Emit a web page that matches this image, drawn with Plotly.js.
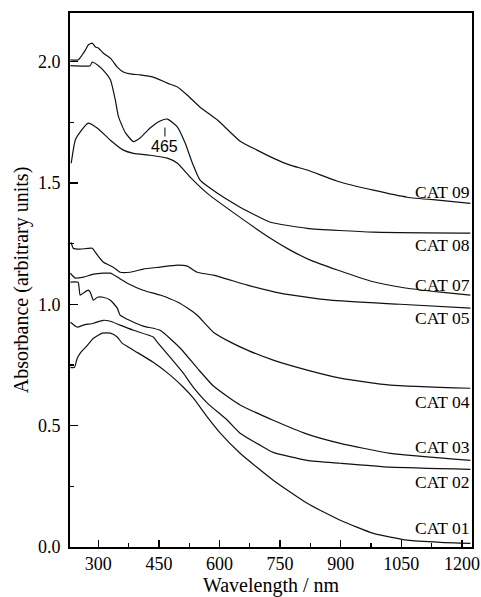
<!DOCTYPE html>
<html>
<head>
<meta charset="utf-8">
<script src="https://cdn.plot.ly/plotly-3.0.1.min.js"></script>
<style>html,body{margin:0;padding:0;background:#fff;}#chart{width:481px;height:597px;}</style>
</head>
<body>
<div id="chart"></div>
<script>
// Wavelength (nm) and absorbance (arbitrary units)
const cat09_wl  = [231,250,260,268,275,285,293,300,312,330,347,362,379,404,436,471,496,520,552,595,651,693,733,775,817,892,981,1065,1147,1221];
const cat09_abs = [2.007,2.007,2.027,2.047,2.068,2.076,2.060,2.056,2.035,2.014,1.977,1.957,1.949,1.945,1.936,1.911,1.895,1.862,1.812,1.759,1.672,1.635,1.602,1.573,1.553,1.507,1.470,1.441,1.428,1.416];

const cat08_wl  = [231,280,285,298,312,330,342,350,367,387,404,429,453,471,496,515,533,552,595,651,689,726,817,981,1221];
const cat08_abs = [1.983,1.983,1.998,1.986,1.965,1.925,1.843,1.773,1.707,1.670,1.686,1.727,1.755,1.763,1.730,1.664,1.581,1.511,1.457,1.400,1.367,1.338,1.313,1.297,1.293];

const cat07_wl  = [233,243,255,275,298,330,362,387,429,471,496,528,570,651,726,775,825,892,973,1060,1147,1221];
const cat07_abs = [1.581,1.676,1.709,1.746,1.725,1.676,1.635,1.622,1.614,1.602,1.581,1.523,1.457,1.358,1.272,1.223,1.182,1.141,1.096,1.067,1.050,1.038];

const cat05_wl  = [233,238,255,285,298,312,337,354,379,411,453,496,520,545,585,669,750,874,1047,1221];
const cat05_abs = [1.255,1.231,1.227,1.231,1.202,1.174,1.153,1.132,1.132,1.145,1.153,1.161,1.157,1.132,1.120,1.079,1.046,1.017,1.000,0.984];

const cat04_wl  = [231,243,263,288,312,330,347,372,411,453,496,528,545,585,627,669,733,817,899,1023,1221];
const cat04_abs = [1.128,1.108,1.112,1.124,1.128,1.128,1.112,1.087,1.058,1.038,1.009,0.976,0.955,0.885,0.844,0.811,0.770,0.729,0.696,0.667,0.654];

const cat03_wl  = [231,250,255,263,275,280,288,298,312,330,347,354,372,411,453,503,545,585,651,733,817,899,1023,1221];
const cat03_abs = [1.091,1.091,1.038,1.046,1.058,1.050,1.017,1.029,1.029,1.017,0.984,0.955,0.938,0.910,0.893,0.819,0.737,0.663,0.585,0.522,0.465,0.427,0.386,0.357];

const cat02_wl  = [231,248,263,288,312,330,354,387,436,446,478,510,535,570,619,651,701,733,817,899,1023,1221];
const cat02_abs = [0.926,0.906,0.914,0.922,0.934,0.930,0.914,0.893,0.865,0.844,0.781,0.717,0.659,0.593,0.523,0.469,0.419,0.390,0.357,0.345,0.329,0.320];

const cat01_wl  = [231,241,248,255,273,288,310,330,347,359,387,436,478,510,535,570,602,651,733,817,899,981,1065,1147,1221];
const cat01_abs = [0.740,0.740,0.778,0.798,0.831,0.860,0.881,0.881,0.865,0.840,0.811,0.761,0.708,0.659,0.614,0.535,0.469,0.386,0.275,0.180,0.110,0.056,0.028,0.019,0.015];

const seriesNames = ['CAT 09','CAT 08','CAT 07','CAT 05','CAT 04','CAT 03','CAT 02','CAT 01'];
const seriesX = [cat09_wl,cat08_wl,cat07_wl,cat05_wl,cat04_wl,cat03_wl,cat02_wl,cat01_wl];
const seriesY = [cat09_abs,cat08_abs,cat07_abs,cat05_abs,cat04_abs,cat03_abs,cat02_abs,cat01_abs];
// vertical position (absorbance units) of each curve label at the right edge
const labelY = [1.462,1.244,1.080,0.944,0.597,0.411,0.267,0.077];

const peakWl = 465;
const peakAbs = 1.728;
const peakText = '465';

const xTickVals = [300,450,600,750,900,1050,1200];
const yTickVals = [0,0.5,1.0,1.5,2.0];

const serif = '"Liberation Serif","Times New Roman",Times,serif';
const sans = '"Liberation Sans",Arial,Helvetica,sans-serif';

const traces = seriesNames.map((n,i)=>({
  type:'scatter', mode:'lines', name:n,
  x:seriesX[i], y:seriesY[i],
  line:{color:'#111', width:1.2, shape:'spline', smoothing:0.5},
  hoverinfo:'skip'
}));

const annotations = seriesNames.map((n,i)=>({
  xref:'paper', yref:'y', x:1, y:labelY[i], xanchor:'right', yanchor:'middle',
  text:n, showarrow:false, font:{family:serif, size:17.5, color:'#000'}
}));
annotations.push({
  xref:'x', yref:'y', x:peakWl, y:peakAbs, text:peakText,
  showarrow:true, arrowhead:0, arrowwidth:1, arrowcolor:'#000', ax:0, ay:19, standoff:0,
  font:{family:sans, size:16, color:'#000'}
});

const layout = {
  width:481, height:597,
  margin:{l:70, r:9, t:13, b:50},
  paper_bgcolor:'#fff', plot_bgcolor:'#fff',
  showlegend:false,
  font:{family:serif, color:'#000', size:18},
  xaxis:{
    range:[230,1225], tickmode:'array', tickvals:xTickVals,
    ticks:'inside', ticklen:7, tickwidth:1.5, tickcolor:'#000',
    showline:true, linewidth:1.8, linecolor:'#000', mirror:true,
    showgrid:false, zeroline:false,
    minor:{ticks:'inside', tick0:300, dtick:75, ticklen:4, tickwidth:1.2, tickcolor:'#000', showgrid:false},
    tickfont:{family:serif, size:18, color:'#000'},
    title:{text:'Wavelength / nm', font:{family:serif, size:20, color:'#000'}, standoff:10}
  },
  yaxis:{
    range:[0,2.2], tickmode:'array', tickvals:yTickVals, ticktext:yTickVals.map(v=>v.toFixed(1)),
    ticks:'inside', ticklen:8, tickwidth:1.5, tickcolor:'#000',
    showline:true, linewidth:1.8, linecolor:'#000', mirror:true,
    showgrid:false, zeroline:false,
    minor:{ticks:'inside', tick0:0, dtick:0.25, ticklen:4, tickwidth:1.2, tickcolor:'#000', showgrid:false},
    tickfont:{family:serif, size:18, color:'#000'},
    ticklabelstandoff:4,
    title:{text:'Absorbance (arbitrary units)', font:{family:serif, size:20, color:'#000'}, standoff:4}
  },
  annotations:annotations
};

Plotly.newPlot('chart', traces, layout, {displayModeBar:false, staticPlot:true});
</script>
</body>
</html>
